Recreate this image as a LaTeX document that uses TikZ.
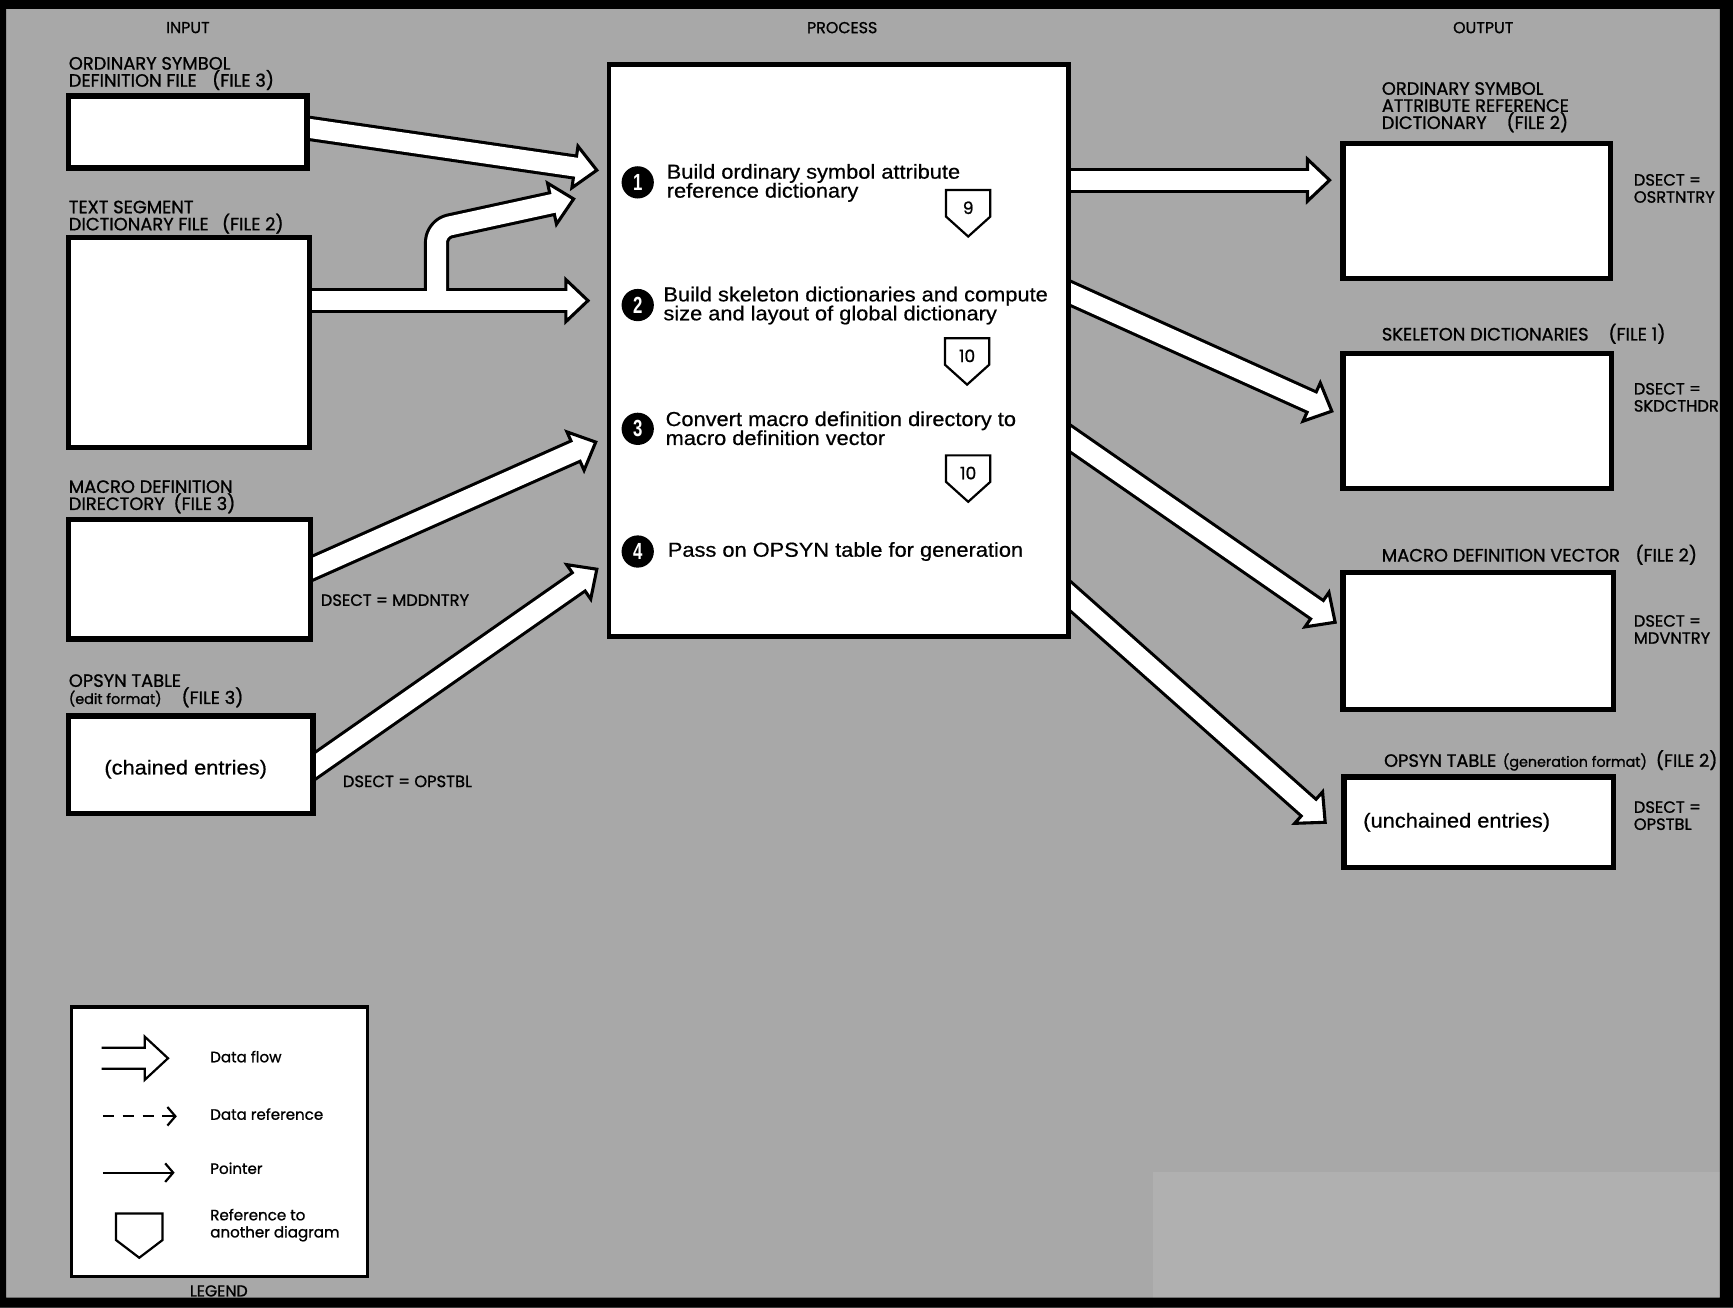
\documentclass[tikz,border=0pt]{standalone}
\usepackage{fontspec}
\setmainfont{Liberation Sans}
\newfontfamily\procfont{Liberation Sans}[FakeStretch=1.08, FakeBold=0.6]
\newfontfamily\labfont{Poppins}[FakeBold=1]
\usetikzlibrary{calc,arrows.meta}

\pgfdeclarelayer{paperlayer}
\pgfdeclarelayer{flow}
\pgfdeclarelayer{rim}
\pgfsetlayers{paperlayer,flow,main,rim}

\definecolor{paper}{gray}{0.66}
\definecolor{patch}{gray}{0.69}

% block arrow dimensions
\newlength\ahl \setlength\ahl{5mm}    % head length
\newlength\ahw \setlength\ahw{4.75mm} % head half width
\newlength\ahin \setlength\ahin{4.1mm}% where the white core stops inside the head

\newcommand\labsize{\labfont\fontsize{11.5}{11}\selectfont}
\newcommand\labsmall{\labfont\fontsize{9.2}{11}\selectfont}
\newcommand\dsectsize{\labfont\fontsize{10.5}{11}\selectfont}
\newcommand\procsize{\procfont\fontsize{13}{12.2}\selectfont}

% open triangular head at #2, pointing away from #1
\newcommand\blockhead[2]{%
  \coordinate (hb) at ($(#2)!\ahl!(#1)$);
  \draw[headline] ($(hb)!\ahw!90:(#2)$) -- (#2) -- ($(hb)!\ahw!-90:(#2)$) -- cycle;}

% straight block arrow from #1 to tip #2
\newcommand\straightflow[2]{%
  \coordinate (sb) at ($(#2)!\ahl!(#1)$);
  \coordinate (sc) at ($(#2)!\ahin!(#1)$);
  \draw[shaftout] (#1) -- (sb);
  \blockhead{#1}{#2}
  \draw[shaftin] (#1) -- (sc);}

% reference mark: name, position, number, half width
\newcommand\refmark[4]{%
  \node[refnum] (#1) at #2 {#3};
  \draw[refline] ($(#1)+(-#4,-16)$) -- ($(#1)+(#4,-16)$) -- ($(#1)+(#4,8)$)
     -- ($(#1)+(0,26)$) -- ($(#1)+(-#4,8)$) -- cycle;}

\tikzset{
  filebox/.style 2 args={draw=black, fill=white, line width=1.25mm, inner sep=0pt,
     minimum width=#1*0.25mm, minimum height=#2*0.25mm},
  lab/.style={font=\labsize, inner sep=0pt, anchor=west, align=left},
  dsect/.style={font=\dsectsize, inner sep=0pt, anchor=west, align=left},
  head/.style={font=\labfont\fontsize{10.2}{10}\selectfont, inner sep=0pt},
  legtext/.style={font=\labfont\fontsize{9.7}{11}\selectfont, inner sep=0pt, anchor=west, align=left},
  proctext/.style={font=\procsize, inner sep=0pt, anchor=west, align=left},
  numdot/.style={circle, fill=black, text=white, inner sep=0pt, minimum size=7.3mm,
     font=\bfseries\fontsize{15}{15}\selectfont},
  refnum/.style={inner sep=0pt, font=\labfont\fontsize{11}{11}\selectfont},
  refline/.style={draw=black, line width=0.5mm, line join=miter},
  shaftout/.style={draw=black, line width=5.7mm, line cap=butt, line join=round},
  shaftin/.style={draw=white, line width=4.3mm, line cap=butt, line join=round},
  headline/.style={draw=black, fill=white, line width=0.7mm, line join=miter},
  legline/.style={draw=black, line width=0.5mm},
}
% narrow step numbers inside the black dots
\newcommand\stepno[1]{\scalebox{0.72}[1]{#1}}

\begin{document}
\begin{tikzpicture}[x=0.25mm, y=-0.25mm]
\begin{pgfonlayer}{paperlayer}
  \fill[paper] (0,0) rectangle (1568,1183);
  \fill[patch] (1043,1060) rectangle (1568,1183);
\end{pgfonlayer}
\useasboundingbox (0,0) rectangle (1568,1183);

% column headings
\node[head] (hin)  at (170,25)  {INPUT};
\node[head] (hpro) at (762,25)  {PROCESS};
\node[head] (hout) at (1342,25) {OUTPUT};

% input files
\node[filebox={216}{65}]  (odf) at (170,119.5) {};
\node[filebox={218}{190}] (tsd) at (171,310) {};
\node[filebox={219}{108}] (mdd) at (171.5,524) {};
\node[filebox={221}{88}]  (ops) at (172.5,692) {};
\node[font=\procsize] (opstext) at (168,696) {(chained entries)};

\node[lab] (lodf) at (62,66.5)  {ORDINARY SYMBOL\\DEFINITION FILE\hspace{3.5mm}(FILE 3)};
\node[lab] (ltsd) at (62,196.5) {TEXT SEGMENT\\DICTIONARY FILE\hspace{3mm}(FILE 2)};
\node[lab] (lmdd) at (62,449.5) {MACRO DEFINITION\\DIRECTORY\hspace{2mm}(FILE 3)};
\node[lab] (lops) at (62,625)   {OPSYN TABLE\\{\labsmall (edit format)}\hspace{4.5mm}(FILE 3)};
\node[dsect] (dmdd) at (290,543)  {DSECT = MDDNTRY};
\node[dsect] (dops) at (310,707)  {DSECT = OPSTBL};

% process
\node[filebox={416}{518}, line width=1.1mm] (proc) at (759,317) {};
\node[numdot] (n1) at (577,165) {\stepno{1}};
\node[proctext] (t1) at (603,165.5) {Build ordinary symbol attribute\\reference dictionary};
\refmark{r1}{(876,188)}{9}{20}
\node[numdot] (n2) at (577,276) {\stepno{2}};
\node[proctext] (t2) at (600,276.5) {Build skeleton dictionaries and compute\\size and layout of global dictionary};
\refmark{r2}{(875,322)}{10}{20}
\node[numdot] (n3) at (577,388) {\stepno{3}};
\node[proctext] (t3) at (602,387.5) {Convert macro definition directory to\\macro definition vector};
\refmark{r3}{(876,428)}{10}{20}
\node[numdot] (n4) at (577,499) {\stepno{4}};
\node[proctext] (t4) at (604,499) {Pass on OPSYN table for generation};

% output files
\node[filebox={242}{122}] (osa) at (1336,191) {};
\node[filebox={243}{122}] (skd) at (1336.5,381) {};
\node[filebox={245}{124}] (mdv) at (1337.5,580) {};
\node[filebox={244}{82}]  (opg) at (1338,744) {};
\node[font=\procsize] (opgtext) at (1318,744) {(unchained entries)};

\node[lab] (losa) at (1250,97)  {ORDINARY SYMBOL\\ATTRIBUTE REFERENCE\\DICTIONARY\hspace{4.5mm}(FILE 2)};
\node[lab] (lskd) at (1250,302) {SKELETON DICTIONARIES\hspace{4.5mm}(FILE 1)};
\node[lab] (lmdv) at (1250,502) {MACRO DEFINITION VECTOR\hspace{3.5mm}(FILE 2)};
\node[lab] (lopg) at (1252,688) {OPSYN TABLE\hspace{1.5mm}{\labsmall (generation format)}\hspace{2mm}(FILE 2)};
\node[dsect] (dosa) at (1478,170.5) {DSECT =\\OSRTNTRY};
\node[dsect] (dskd) at (1478,359.5) {DSECT =\\SKDCTHDR};
\node[dsect] (dmdv) at (1478,569.5) {DSECT =\\MDVNTRY};
\node[dsect] (dopg) at (1478,738)   {DSECT =\\OPSTBL};

% data flow arrows
\begin{pgfonlayer}{flow}
  \coordinate (sA)  at ($(odf.center)+(95,-5.5)$);
  \coordinate (tA)  at ($(proc.center)+(-219,-163)$);
  \coordinate (sB)  at ($(tsd.center)+(94,-38)$);
  \coordinate (tB)  at ($(proc.center)+(-227,-45)$);
  \coordinate (fB)  at ($(tsd.center)+(224,-38)$);
  \coordinate (kB)  at ($(tsd.center)+(224,-103)$);
  \coordinate (tB2) at ($(proc.center)+(-240,-137)$);
  \coordinate (sC)  at ($(mdd.center)+(93.5,-2)$);
  \coordinate (tC)  at ($(proc.center)+(-220,83)$);
  \coordinate (sD)  at ($(ops.center)+(92.5,15)$);
  \coordinate (tD)  at ($(proc.center)+(-219,198)$);
  \coordinate (sR1) at ($(proc.center)+(191,-154)$);
  \coordinate (tR1) at ($(osa.center)+(-133,-28)$);
  \coordinate (sR2) at ($(proc.center)+(191,-60)$);
  \coordinate (tR2) at ($(skd.center)+(-131.5,-9)$);
  \coordinate (sR3) at ($(proc.center)+(191,67)$);
  \coordinate (tR3) at ($(mdv.center)+(-129.5,-17)$);
  \coordinate (sR4) at ($(proc.center)+(191,206)$);
  \coordinate (tR4) at ($(opg.center)+(-139,0)$);

  \straightflow{sA}{tA}
  \straightflow{sC}{tC}
  \straightflow{sD}{tD}
  \straightflow{sR1}{tR1}
  \straightflow{sR2}{tR2}
  \straightflow{sR3}{tR3}
  \straightflow{sR4}{tR4}

  % the text segment file feeds two steps through a forked arrow
  \coordinate (bB)  at ($(tB)!\ahl!(sB)$);
  \coordinate (cB)  at ($(tB)!\ahin!(sB)$);
  \coordinate (bB2) at ($(tB2)!\ahl!(kB)$);
  \coordinate (cB2) at ($(tB2)!\ahin!(kB)$);
  \draw[shaftout] (sB) -- (bB);
  \draw[shaftout, rounded corners=3mm] (fB) -- (kB) -- (bB2);
  \blockhead{sB}{tB}
  \blockhead{kB}{tB2}
  \draw[shaftin] (sB) -- (cB);
  \draw[shaftin, rounded corners=3mm] (fB) -- (kB) -- (cB2);
\end{pgfonlayer}

% legend
\node[filebox={268}{244}, line width=0.75mm] (leg) at (198.5,1033) {};
\draw[legline] (92,948) -- (131,948) -- (131,938) -- (152,957.5) -- (131,977) -- (131,967) -- (92,967);
\draw[legline, dash pattern=on 2.6mm off 1.9mm, -{Straight Barb[length=1.8mm,width=4.2mm]}] (93,1010) -- (160,1010);
\draw[legline, -{Straight Barb[length=1.8mm,width=4.2mm]}] (93,1061) -- (158,1061);
\draw[legline, line join=miter] (105,1098) -- (147,1098) -- (147,1122) -- (126,1138) -- (105,1122) -- cycle;
\node[legtext] (lg1) at (190,956)  {Data flow};
\node[legtext] (lg2) at (190,1008) {Data reference};
\node[legtext] (lg3) at (190,1057) {Pointer};
\node[legtext] (lg4) at (190,1108.5) {Reference to\\another diagram};
\node[head] (hleg) at (198,1168) {LEGEND};

% outer rim, heavier on the right
\begin{pgfonlayer}{rim}
  \fill[black, even odd rule] (0,0) rectangle (1568,1183) (5.5,8) rectangle (1556,1174);
\end{pgfonlayer}
\end{tikzpicture}
\end{document}
